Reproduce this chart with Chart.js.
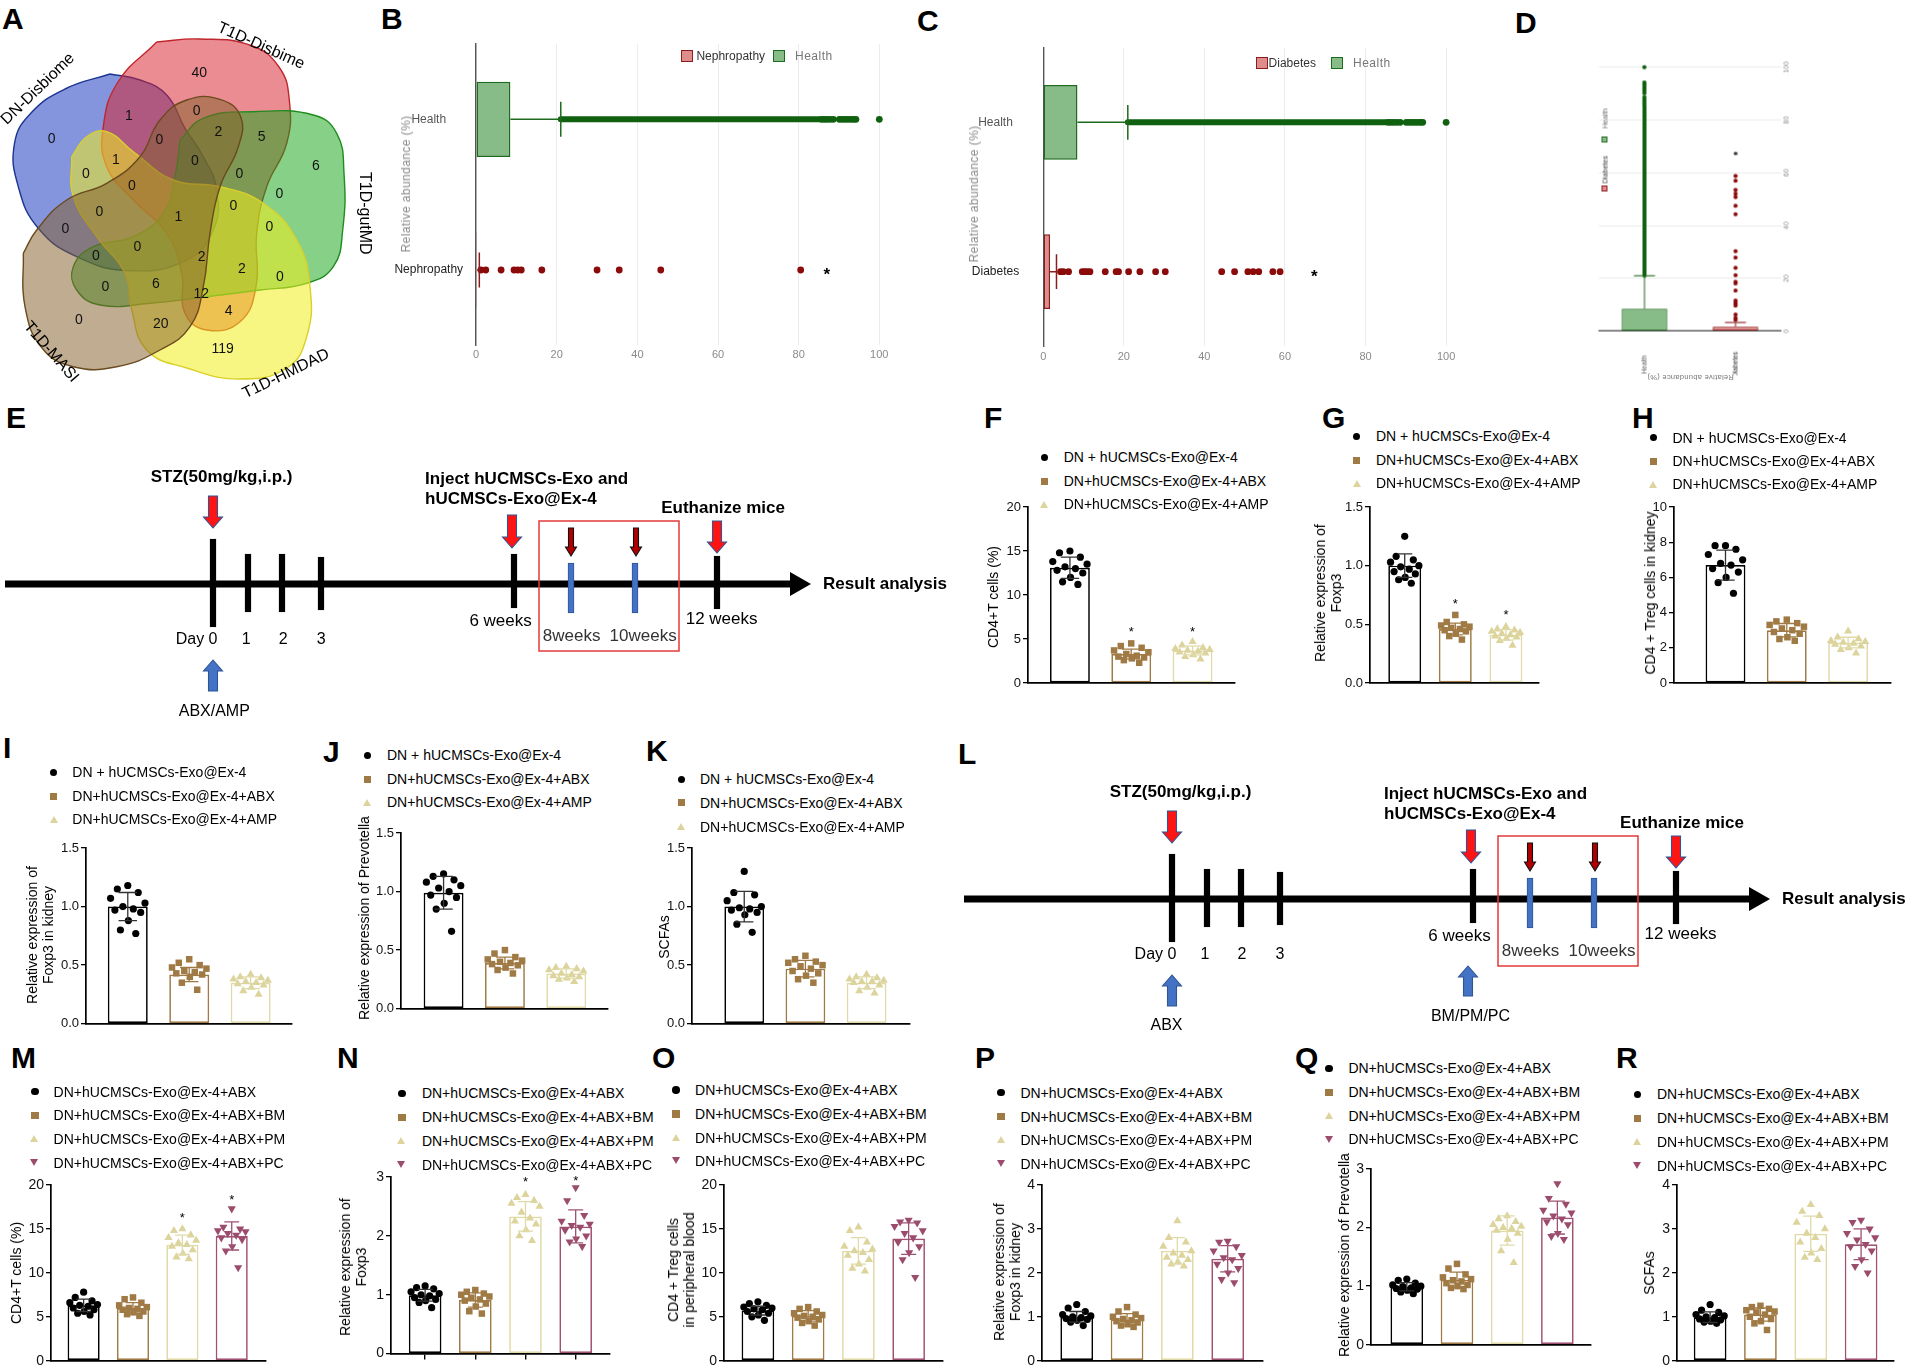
<!DOCTYPE html>
<html><head><meta charset="utf-8">
<script src="https://cdn.jsdelivr.net/npm/chart.js"></script>
<style>
html,body{margin:0;padding:0;background:#fff;}
#page{position:relative;width:1905px;height:1367px;overflow:hidden;background:#fff;font-family:"Liberation Sans",Arial,Helvetica,sans-serif;}
.t{position:absolute;white-space:nowrap;line-height:1;color:#000;}
canvas{position:absolute;}
</style></head><body><div id="page"></div>
<script>
// ================= DATA =================
// A: Venn diagram
const vennSets = ['DN-Disbiome','T1D-Disbime','T1D-gutMD','T1D-HMDAD','T1D-MASI'];
const vennCounts = [0,40,6,119,0, 1,0,2,5, 0,1,0,0,0,0, 0,0,0,1, 0,0,0,0, 2,2,0, 0,6,12,4,20];

// B / C / D: relative abundance box plots
const catsB = ['Health','Nephropathy'];
const catsC = ['Health','Diabetes'];
const healthBox = [0, 8.5];
const healthWhisker = 21;
const healthDenseRun = [21, 85];
const healthTail = [85.6,86.3,87.0,87.8,88.6,90.1,90.8,91.5,92.2,92.9,93.6,94.2,100];
const nephBox = [0, 0.25];
const nephWhisker = 0.8;
const nephOutliers = [1.2,2.4,6.2,9.4,10.3,11.2,16.3,30.0,35.5,45.8,80.5];
const nephStar = 87;
const diabBox = [0, 1.7];
const diabWhisker = 3.3;
const diabOutliers = [4.3,5.0,6.3,9.7,10.3,10.9,11.6,15.4,18.1,18.7,21.2,24.0,27.9,30.3,44.3,47.5,50.8,52.1,53.5,57.0,58.8];
const diabStar = 67.3;
const abundTicks = [0,20,40,60,80,100];

// E / L timelines
const tlLabels = ['Day 0','1','2','3','6 weeks','8weeks','10weeks','12 weeks'];
const tlPos = [0, 35, 69, 108, 301, 358, 422, 504];

// Prism groups
const groupsFK = ['DN + hUCMSCs-Exo@Ex-4','DN+hUCMSCs-Exo@Ex-4+ABX','DN+hUCMSCs-Exo@Ex-4+AMP'];
const groupsMR = ['DN+hUCMSCs-Exo@Ex-4+ABX','DN+hUCMSCs-Exo@Ex-4+ABX+BM','DN+hUCMSCs-Exo@Ex-4+ABX+PM','DN+hUCMSCs-Exo@Ex-4+ABX+PC'];

// F CD4+T cells (%)
const F1 = [15.0,14.8,14.3,13.8,13.5,13.2,13.0,12.8,12.5,12.0,11.5,11.2];
const F2 = [4.5,4.2,4.0,3.7,3.5,3.3,3.1,3.0,2.9,2.8,2.6,2.3];
const F3 = [4.7,4.3,4.0,3.9,3.8,3.7,3.6,3.5,3.4,3.2,3.0,2.7];
const F_mean = [13.1,3.3,3.7], F_sd = [1.2,0.55,0.5], F_star = [null,6.25,6.25];
// G Foxp3
const G1 = [1.25,1.08,1.05,1.03,1.0,0.99,0.97,0.95,0.93,0.9,0.88,0.85];
const G2 = [0.58,0.52,0.5,0.49,0.48,0.47,0.46,0.45,0.44,0.42,0.4,0.37];
const G3 = [0.48,0.46,0.45,0.44,0.43,0.42,0.41,0.40,0.39,0.38,0.36,0.32];
const G_mean = [1.0,0.46,0.41], G_sd = [0.1,0.05,0.045], G_star = [null,0.70,0.61];
// H CD4+Treg kidney
const H1 = [7.8,7.8,7.6,7.3,7.0,6.8,6.7,6.5,6.3,6.0,5.7,5.1];
const H2 = [3.6,3.5,3.4,3.3,3.2,3.1,3.0,2.9,2.8,2.6,2.5,2.4];
const H3 = [2.95,2.6,2.5,2.4,2.35,2.3,2.25,2.2,2.1,2.0,1.9,1.7];
const H_mean = [6.7,3.0,2.3], H_sd = [0.85,0.38,0.3];
// I Foxp3 kidney
const I1 = [1.18,1.15,1.12,1.07,1.03,1.0,0.98,0.97,0.95,0.88,0.8,0.77];
const I2 = [0.55,0.52,0.5,0.48,0.47,0.45,0.44,0.43,0.42,0.4,0.35,0.29];
const I3 = [0.42,0.4,0.39,0.38,0.37,0.36,0.35,0.34,0.33,0.31,0.28,0.25];
const I_mean = [1.0,0.42,0.35], I_sd = [0.12,0.06,0.05];
// J Prevotella
const J1 = [1.15,1.13,1.1,1.08,1.05,1.03,1.0,0.97,0.95,0.9,0.85,0.66];
const J2 = [0.5,0.47,0.44,0.42,0.41,0.4,0.39,0.38,0.37,0.35,0.33,0.3];
const J3 = [0.36,0.35,0.34,0.33,0.32,0.3,0.29,0.28,0.27,0.26,0.25,0.23];
const J_mean = [0.99,0.39,0.3], J_sd = [0.14,0.05,0.04];
// K SCFAs
const K1 = [1.3,1.12,1.1,1.05,1.0,0.99,0.98,0.97,0.95,0.93,0.85,0.78];
const K2 = [0.58,0.55,0.53,0.52,0.5,0.49,0.47,0.45,0.43,0.41,0.38,0.35];
const K3 = [0.42,0.4,0.39,0.38,0.37,0.36,0.36,0.35,0.33,0.31,0.28,0.26];
const K_mean = [1.0,0.47,0.35], K_sd = [0.13,0.07,0.05];
// M CD4+T cells
const M1 = [7.8,7.2,6.8,6.6,6.4,6.3,6.2,6.0,5.8,5.6,5.4,5.2];
const M2 = [7.2,7.0,6.6,6.3,6.1,6.0,5.9,5.8,5.6,5.5,5.3,5.1];
const M3 = [15.0,14.8,14.3,14.0,13.7,13.4,13.2,13.0,12.6,12.2,11.8,11.6];
const M4 = [17.3,15.2,15.0,14.8,14.7,14.5,14.3,14.0,13.8,13.0,12.5,10.6];
const M_mean = [6.3,6.0,13.2,14.2], M_sd = [0.7,0.6,1.1,1.6], M_star = [null,null,16.6,18.7];
// N Foxp3
const N1 = [1.15,1.12,1.1,1.05,1.02,1.0,0.98,0.95,0.92,0.9,0.87,0.78];
const N2 = [1.08,1.05,1.02,1.0,0.97,0.95,0.92,0.9,0.85,0.8,0.72,0.68];
const N3 = [2.7,2.65,2.6,2.55,2.5,2.4,2.3,2.25,2.2,2.1,2.0,1.92];
const N4 = [2.82,2.6,2.35,2.25,2.2,2.18,2.15,2.1,2.0,1.95,1.9,1.82];
const N_mean = [0.99,0.91,2.33,2.16], N_sd = [0.1,0.12,0.25,0.28], N_star = [null,null,2.97,3.0];
// O CD4+Treg blood
const O1 = [6.7,6.5,6.3,6.1,6.0,5.9,5.8,5.6,5.4,5.2,5.0,4.6];
const O2 = [6.1,5.9,5.6,5.4,5.2,5.1,5.0,4.9,4.7,4.5,4.3,4.0];
const O3 = [15.2,14.8,13.5,13.0,12.7,12.5,12.3,12.0,11.5,11.0,10.5,10.2];
const O4 = [16.0,15.8,15.7,15.3,14.8,14.5,14.0,13.5,13.0,12.3,11.5,9.5];
const O_mean = [5.7,5.1,12.5,13.9], O_sd = [0.5,0.6,1.5,1.8];
// P Foxp3 kidney
const P1 = [1.28,1.2,1.12,1.05,1.02,1.0,0.98,0.96,0.94,0.92,0.88,0.8];
const P2 = [1.22,1.12,1.05,1.0,0.97,0.95,0.92,0.9,0.87,0.83,0.8,0.77];
const P3 = [3.18,2.8,2.7,2.6,2.5,2.45,2.4,2.35,2.3,2.25,2.2,2.15];
const P4 = [2.72,2.7,2.6,2.5,2.4,2.35,2.3,2.2,2.1,2.0,1.85,1.78];
const P_mean = [1.0,0.94,2.5,2.32], P_sd = [0.12,0.13,0.3,0.3];
// Q Prevotella
const Q1 = [1.12,1.1,1.05,1.02,1.0,0.99,0.97,0.96,0.95,0.93,0.9,0.87];
const Q2 = [1.38,1.3,1.2,1.15,1.12,1.1,1.08,1.05,1.02,1.0,0.97,0.95];
const Q3 = [2.2,2.15,2.1,2.05,2.02,2.0,1.98,1.95,1.9,1.8,1.6,1.4];
const Q4 = [2.75,2.5,2.4,2.3,2.25,2.2,2.15,2.1,2.05,1.9,1.85,1.8];
const Q_mean = [0.99,1.11,1.95,2.17], Q_sd = [0.07,0.13,0.25,0.28];
// R SCFAs
const R1 = [1.28,1.15,1.1,1.05,1.02,1.0,0.98,0.95,0.93,0.9,0.88,0.85];
const R2 = [1.25,1.22,1.18,1.15,1.12,1.1,1.05,1.0,0.95,0.9,0.85,0.7];
const R3 = [3.55,3.4,3.3,3.15,3.0,2.9,2.8,2.7,2.55,2.45,2.35,2.3];
const R4 = [3.2,3.15,3.0,2.9,2.8,2.75,2.65,2.6,2.5,2.3,2.15,2.0];
const R_mean = [0.99,1.05,2.89,2.65], R_sd = [0.12,0.15,0.4,0.35];

// ================= LAYOUT / STYLE =================
const FONT = '"Liberation Sans", Arial, Helvetica, sans-serif';
Chart.defaults.font.family = FONT;
Chart.defaults.animation = false;
Chart.defaults.responsive = false;
Chart.defaults.plugins.legend.display = false;
Chart.defaults.plugins.tooltip.enabled = false;
Chart.defaults.events = [];
const page = document.getElementById('page');

function box(x,y,w,h,parent){const d=document.createElement('div');d.style.cssText=`position:absolute;left:${x}px;top:${y}px;width:${w}px;height:${h}px;`;(parent||page).appendChild(d);return d;}
function canvasIn(parent,w,h){const c=document.createElement('canvas');c.width=w;c.height=h;c.style.cssText=`left:0px;top:0px;width:${w}px;height:${h}px;`;parent.appendChild(c);return c;}
function T(str,x,y,o={}){
  const d=document.createElement('div');d.className='t';
  if(Array.isArray(str)){d.innerHTML=str.join('<br>');d.style.textAlign='center';d.style.lineHeight=(o.lh||16)+'px';}
  else d.textContent=str;
  d.style.left=x+'px';d.style.top=y+'px';d.style.fontSize=(o.size||14)+'px';
  if(o.bold)d.style.fontWeight='bold';
  d.style.color=o.color||'#000';
  if(o.ls)d.style.letterSpacing=o.ls+'px';
  const ax=o.ax??0, ay=o.ay??0.5;
  d.style.transform=`translate(${-ax*100}%,${-ay*100}%)`+(o.rot?` rotate(${o.rot}deg)`:'');
  (o.parent||page).appendChild(d);return d;
}
function letter(ch,x,capTop){T(ch,x,capTop-4,{size:30,bold:true,ax:0,ay:0});}
function marker(shape,color,cx,cy,s){
  const d=document.createElement('div');d.style.position='absolute';
  if(shape==='circle'||shape==='rect'){d.style.width=s+'px';d.style.height=s+'px';d.style.left=(cx-s/2)+'px';d.style.top=(cy-s/2)+'px';d.style.background=color;if(shape==='circle')d.style.borderRadius='50%';}
  else{const h=s,w=s*1.15;d.style.width='0';d.style.height='0';d.style.left=(cx-w/2)+'px';d.style.top=(cy-h/2)+'px';d.style.borderLeft=`${w/2}px solid transparent`;d.style.borderRight=`${w/2}px solid transparent`;if(shape==='tri')d.style.borderBottom=`${h}px solid ${color}`;else d.style.borderTop=`${h}px solid ${color}`;}
  page.appendChild(d);
}
function sq(parent,x,y,s,fill,stroke,bw){const d=document.createElement('div');d.style.cssText=`position:absolute;left:${x}px;top:${y}px;width:${s}px;height:${s}px;background:${fill};border:${bw}px solid ${stroke};box-sizing:border-box;`;parent.appendChild(d);}

// ---------- Panel letters ----------
[['A',2,8],['B',381,8],['C',917,10],['D',1515,12],['E',6,407],['F',984,407],['G',1322,407],['H',1632,407],
 ['I',3,737],['J',323,741],['K',646,740],['L',958,743],['M',11,1047],['N',337,1047],['O',652,1047],['P',975,1047],['Q',1295,1047],['R',1616,1047]]
 .forEach(a=>letter(a[0],a[1],a[2]));

// ---------- A: Venn ----------
const vennOutlines = [
 [[110,74],[140,80],[166.7,95],[185,128.3],[203.3,156.7],[216.7,190],[213.3,230],[186.7,260],[130,270.7],[76.7,256.7],[38.3,228.3],[18.3,186.7],[14.5,143.3],[31,113],[65,89]],
 [[156.7,42],[200,39],[251,45.5],[279,67],[289.3,100],[286.7,143.3],[266.7,186.7],[256.7,233.3],[256,286.7],[240,321.7],[206.7,330],[185,313.3],[181.7,273.3],[166.7,233.3],[133.3,200],[106.7,166.7],[103.3,126.7],[118,82]],
 [[180,140],[203.3,118.3],[253.3,111.7],[313.3,115],[336.7,133.3],[344,173.3],[342.7,230],[333.3,266.7],[306.7,283.3],[260,290],[206.7,296.7],[150,303.3],[100,305],[76.7,290],[73.3,266.7],[93.3,246.7],[133.3,236.7],[163.3,213.3],[175,176.7]],
 [[71.7,156.7],[86.7,136.7],[106.7,131.7],[133.3,151.7],[173.3,180],[220,186.7],[263.3,203.3],[296.7,240],[310,286.7],[306.7,336.7],[286.7,368],[240,379],[186.7,368],[146.7,350],[131.7,310],[125,273.3],[96.7,236.7],[73.3,196.7]],
 [[23.3,253.3],[36.7,230],[66.7,200],[106.7,183.3],[140,156.7],[160,120],[186.7,100],[220,99.3],[240.7,116.7],[238.3,146.7],[220,186.7],[210,233.3],[203.3,286.7],[190,326.7],[160,350],[116.7,366.7],[73.3,366.7],[42,348],[25,306.7]]
];
const vennFill = ['rgba(20,50,190,0.52)','rgba(215,35,45,0.52)','rgba(25,165,25,0.52)','rgba(240,238,30,0.55)','rgba(135,95,45,0.52)'];
const vennStroke = ['#1c3590','#c0272d','#1f8c1f','#d9d02a','#6b4a1e'];
const vennCountPos = [[51.7,138.3],[199.3,71.7],[316,165],[222.7,347.7],[79,319],
 [129,115],[196.7,110],[218.3,131],[261.7,136],
 [86,172.7],[116,159.3],[159.3,139.3],[195,160],[239.3,172.7],[279.3,193.3],
 [132,185.3],[233.3,205],[99.3,210.7],[178.3,216],
 [65.3,228.3],[269.3,226],[137.3,245.7],[96,255],
 [201.7,256],[242,267.7],[280,275.7],
 [105.3,286],[156,283.3],[201.3,293.3],[228.7,310],[160.7,322.7]];
const vennNamePos = [[38,89,-44],[261,46,24],[364,213.3,90],[286,374,-26],[51,352,49]];
(function(){
  const cont=box(0,0,470,400);const cv=canvasIn(cont,470,400);
  const ds=vennOutlines.map((pts,i)=>({type:'line',data:pts.concat([pts[0]]).map(p=>({x:p[0],y:p[1]})),borderColor:vennStroke[i],backgroundColor:vennFill[i],borderWidth:1.4,fill:'shape',tension:0.45,pointRadius:0,order:10-i}));
  ds.push({type:'scatter',data:vennCountPos.map(p=>({x:p[0],y:p[1]})),pointRadius:0,order:0});
  new Chart(cv,{data:{datasets:ds},options:{layout:{padding:0},scales:{x:{type:'linear',min:0,max:470,display:false},y:{type:'linear',min:0,max:400,reverse:true,display:false}}},
   plugins:[{id:'vennText',afterDatasetsDraw(chart){
     const {ctx,scales:{x,y}}=chart;const pts=chart.getDatasetMeta(ds.length-1).data;
     ctx.save();ctx.fillStyle='#111';ctx.font=`14px ${FONT}`;ctx.textAlign='center';ctx.textBaseline='middle';
     vennCounts.forEach((c,i)=>ctx.fillText(String(c),pts[i].x,pts[i].y+1));
     ctx.font=`16px ${FONT}`;ctx.fillStyle='#000';
     vennSets.forEach((s,i)=>{const p=vennNamePos[i];ctx.save();ctx.translate(x.getPixelForValue(p[0]),y.getPixelForValue(p[1]));ctx.rotate(p[2]*Math.PI/180);ctx.fillText(s,0,0);ctx.restore();});
     ctx.restore();}}]});
})();

// ---------- B, C, D: abundance box plots ----------
const GR='#1d6b1d', GRF='rgba(70,150,70,0.65)', RD='#8c1d1d', RDF='rgba(210,95,95,0.72)';
function abund(o){
  const cv=canvasIn(o.parent,o.W,o.H);const cats=o.cats;const P=o.plot;
  const ds=[
    {type:'bar',data:[o.box0,o.box1],backgroundColor:[GRF,RDF],borderColor:[GR,RD],borderWidth:o.bw,borderSkipped:false,barPercentage:0.5,categoryPercentage:1,order:4},
    {type:'line',data:[{x:healthDenseRun[0],y:cats[0]},{x:healthDenseRun[1],y:cats[0]}],borderColor:'#0f600f',borderWidth:o.band,borderCapStyle:'round',pointRadius:0,fill:false,order:3,clip:false},
    {type:'scatter',data:healthTail.map(v=>({x:v,y:cats[0]})),pointRadius:o.pr,backgroundColor:'#0f600f',borderWidth:0,order:2,clip:false},
    {type:'scatter',data:o.out.map(v=>({x:v,y:cats[1]})),pointRadius:o.pr,backgroundColor:'#8b0a0a',borderWidth:0,order:1,clip:false}
  ];
  new Chart(cv,{data:{labels:cats,datasets:ds},options:{indexAxis:'y',
    layout:{padding:{left:P.l-o.yW,top:P.t,right:o.W-P.r,bottom:o.H-P.b-o.xH}},
    scales:{
      x:{type:'linear',min:0,max:100,offset:false,afterFit(s){s.height=o.xH;},afterBuildTicks(s){s.ticks=abundTicks.map(v=>({value:v}));},
         ticks:{color:'#8a8a8a',font:{size:o.tickFs},padding:o.xPad,maxRotation:0,autoSkip:false},grid:{color:'#ececec',drawTicks:false,lineWidth:1},border:{display:false}},
      y:{type:'category',offset:true,afterFit(s){s.width=o.yW;},ticks:{color:(c)=>c.index===0?'#555':'#222',font:{size:o.catFs},padding:o.catPad,crossAlign:'center'},grid:{display:false},border:{display:true,color:'#555',width:1.4}}
    }},
    plugins:[{id:'whisk',afterDatasetsDraw(chart){
      const {ctx,scales:{x,y}}=chart;const slot=Math.abs(y.getPixelForValue(1)-y.getPixelForValue(0));
      ctx.save();ctx.lineWidth=o.bw;
      [[o.box0[1],o.wh0,GR],[o.box1[1],o.wh1,RD]].forEach((w,i)=>{const yp=y.getPixelForValue(i),x1=x.getPixelForValue(w[0]),x2=x.getPixelForValue(w[1]),ch=slot*0.116;
        ctx.strokeStyle=w[2];ctx.beginPath();ctx.moveTo(x1,yp);ctx.lineTo(x2,yp);ctx.moveTo(x2,yp-ch);ctx.lineTo(x2,yp+ch);ctx.stroke();});
      ctx.fillStyle='#000';ctx.font=`bold ${o.starFs}px ${FONT}`;ctx.textAlign='center';ctx.textBaseline='alphabetic';
      ctx.fillText('*',x.getPixelForValue(o.star),y.getPixelForValue(1)+o.starFs*0.6);ctx.restore();}}]});
}
// B
(function(){
  const c=box(380,0,530,390);
  abund({parent:c,W:530,H:390,plot:{l:96.1,t:44,r:499.3,b:345.3},yW:86,xH:20,cats:catsB,box0:healthBox,box1:nephBox,wh0:healthWhisker,wh1:nephWhisker,out:nephOutliers,star:nephStar,
    tickFs:11,catFs:12,catPad:5,xPad:3,pr:3.4,band:6,bw:1.5,starFs:17});
  T('Relative abundance (%)',406,184,{size:12,color:'#8a8a8a',ax:0.5,ay:0.5,rot:-90,ls:0.4});
  sq(page,681,50,11.5,RDF,RD,1.5);T('Nephropathy',696.4,55.7,{size:12,color:'#333'});
  sq(page,773,50,11.5,GRF,GR,1.5);T('Health',795,55.7,{size:12,color:'#777',ls:0.5});
})();
// C
(function(){
  const c=box(940,0,530,390);
  abund({parent:c,W:530,H:390,plot:{l:103.2,t:47.6,r:506.1,b:346.4},yW:90,xH:20,cats:catsC,box0:healthBox,box1:diabBox,wh0:healthWhisker,wh1:diabWhisker,out:diabOutliers,star:diabStar,
    tickFs:11,catFs:12,catPad:16,xPad:4,pr:3.4,band:6,bw:1.5,starFs:17});
  T('Relative abundance (%)',974,194,{size:12,color:'#8a8a8a',ax:0.5,ay:0.5,rot:-90,ls:0.4});
  sq(page,1256,57,11.5,RDF,RD,1.5);T('Diabetes',1268.6,63,{size:12,color:'#333'});
  sq(page,1331,57,11.5,GRF,GR,1.5);T('Health',1353,63,{size:12,color:'#777',ls:0.5});
})();
// D (same data as C, drawn rotated)
(function(){
  const c=box(1520,107.5,340,215);c.style.transform='rotate(-90deg)';c.style.transformOrigin='50% 50%';
  abund({parent:c,W:340,H:215,plot:{l:54.3,t:14.2,r:318.3,b:200.8},yW:44,xH:11,cats:catsC,box0:healthBox,box1:diabBox,wh0:healthWhisker,wh1:diabWhisker,out:diabOutliers,star:diabStar,
    tickFs:7,catFs:6.5,catPad:12.5,xPad:1,pr:2.1,band:4,bw:1.1,starFs:10});
  T('Relative abundance (%)',8.3,107.5,{size:7.5,color:'#777',ax:0.5,ay:0.5,rot:-90,ls:0.3,parent:c});
  sq(c,194,18.5,6,RDF,RD,1);T('Diabetes',202,21.5,{size:7,color:'#333',parent:c});
  sq(c,243,18.5,6,GRF,GR,1);T('Health',257,21.5,{size:7,color:'#666',parent:c});
})();

// ---------- E, L: timelines ----------
const tlLine = [-208, 577, 598];
const tlSpan = [[-43,45],[-28,30],[-28,30],[-26,27],[-24,30],[-29,21],[-29,21],[-25,28]];
const tlKind = ['k','k','k','k','k','b','b','k'];
const tlBox = [326,63,466,-67];
const tlArrows = [{x:0,from:88,to:56,k:'red'},{x:299,from:69,to:36,k:'red'},{x:358,from:56,to:28,k:'dark'},{x:423,from:56,to:28,k:'dark'},{x:504,from:63,to:31,k:'red'},{x:0,from:-107,to:-76,k:'blue'}];
function drawArrow(ctx,px,p0,p1,k){
  const dir=Math.sign(p1-p0);const big=k!=='dark';
  const sw=big?4.5:2.5,hw=big?9.5:5.5,hl=big?11:9;const hb=p1-dir*hl;
  ctx.beginPath();ctx.moveTo(px-sw,p0);ctx.lineTo(px-sw,hb);ctx.lineTo(px-hw,hb);ctx.lineTo(px,p1);ctx.lineTo(px+hw,hb);ctx.lineTo(px+sw,hb);ctx.lineTo(px+sw,p0);ctx.closePath();
  ctx.fillStyle=k==='red'?'#ff1414':(k==='blue'?'#4472c4':'#b00000');
  ctx.strokeStyle=k==='dark'?'#111':'#2f5597';ctx.lineWidth=1.1;ctx.fill();ctx.stroke();
}
function timeline(x0,y0,bottom,extraArrows){
  const W=835,H=270,XL=-215,YT=130;
  const cont=box(x0+XL,y0-YT,W,H);const cv=canvasIn(cont,W,H);
  const arrows=tlArrows.concat(extraArrows);
  new Chart(cv,{data:{datasets:[
    {type:'line',data:[{x:tlLine[0],y:0},{x:tlLine[1],y:0}],borderColor:'#000',borderWidth:7,pointRadius:0,fill:false,order:2},
    {type:'bar',data:tlPos.map((p,i)=>({x:p,y:tlSpan[i]})),backgroundColor:tlKind.map(k=>k==='b'?'#4472c4':'#000'),borderColor:tlKind.map(k=>k==='b'?'#2f5597':'#000'),borderWidth:1,borderSkipped:false,barThickness:6,grouped:false,order:1}
  ]},options:{layout:{padding:0},scales:{x:{type:'linear',min:XL,max:XL+W,offset:false,display:false},y:{type:'linear',min:YT-H,max:YT,display:false}}},
  plugins:[{id:'tl',afterDatasetsDraw(chart){
    const {ctx,scales:{x,y}}=chart;ctx.save();
    const bx=x.getPixelForValue(tlLine[1]),tx=x.getPixelForValue(tlLine[2]),cy=y.getPixelForValue(0);
    ctx.fillStyle='#000';ctx.beginPath();ctx.moveTo(bx,cy-12);ctx.lineTo(tx,cy);ctx.lineTo(bx,cy+12);ctx.closePath();ctx.fill();
    const x1=x.getPixelForValue(tlBox[0]),y1=y.getPixelForValue(tlBox[1]),x2=x.getPixelForValue(tlBox[2]),y2=y.getPixelForValue(tlBox[3]);
    ctx.strokeStyle='#e23a3a';ctx.lineWidth=1.5;ctx.strokeRect(x1,y1,x2-x1,y2-y1);
    arrows.forEach(a=>drawArrow(ctx,x.getPixelForValue(a.x),y.getPixelForValue(a.from),y.getPixelForValue(a.to),a.k));
    ctx.restore();}}]});
  // texts
  T('STZ(50mg/kg,i.p.)',x0+8.5,y0-108.5,{size:17,bold:true,ax:0.5});
  T('Inject hUCMSCs-Exo and',x0+212,y0-106.5,{size:17,bold:true});
  T('hUCMSCs-Exo@Ex-4',x0+212,y0-86,{size:17,bold:true});
  T('Euthanize mice',x0+510,y0-77.5,{size:17,bold:true,ax:0.5});
  T('Result analysis',x0+610,y0-1.5,{size:17,bold:true});
  T(tlLabels[0],x0+4.4,y0+54.5,{size:16,ax:1});
  T(tlLabels[1],x0+33,y0+54.5,{size:16,ax:0.5});
  T(tlLabels[2],x0+70,y0+54.5,{size:16,ax:0.5});
  T(tlLabels[3],x0+108,y0+54.5,{size:16,ax:0.5});
  T(tlLabels[4],x0+287.5,y0+36,{size:17,ax:0.5});
  T(tlLabels[5],x0+358.5,y0+51,{size:17,ax:0.5,color:'#333'});
  T(tlLabels[6],x0+430,y0+51,{size:17,ax:0.5,color:'#333'});
  T(tlLabels[7],x0+508.5,y0+34,{size:17,ax:0.5});
  bottom.forEach(b=>T(b[0],x0+b[1],y0+b[2],{size:16,ax:0.5}));
}
timeline(213.1,584.3,[['ABX/AMP',1.2,126.7]],[]);
timeline(1172,899.3,[['ABX',-5.5,125.7],['BM/PM/PC',298.5,116.7]],[{x:296,from:-97,to:-67,k:'blue'}]);

// ---------- F-K, M-R: bar + scatter panels ----------
const COLS = ['#000000','#a07a45','#dcd49c','#9b4b6b'];
const BARCOLS = ['#000000','#a07a45','#e0daa8','#a05273'];
const SHAPES = ['circle','rect','triangle','triangle'];
const ROTS = [0,0,0,180];
const RADS = [3.6,4.6,4.7,4.7];
const LEGSHAPES = ['circle','rect','tri','tridown'];
const JIT = [0,-0.17,0.17,-0.28,0.28,-0.08,0.09,-0.21,0.21,0.01,-0.12,0.13];
function prism(c){
  const padL=46,padT=14,padR=10,padB=14;
  const W=Math.round(c.xe-c.ax+padL+padR),H=Math.round(c.y0-c.yt+padT+padB);
  const cont=box(c.ax-padL,c.yt-padT,W,H);const cv=canvasIn(cont,W,H);
  const xH=c.xTicks?7:0;const n=c.mean.length;
  const ds=[{type:'bar',data:c.mean.map((m,i)=>({x:i+1,y:m})),backgroundColor:'#ffffff',borderColor:BARCOLS.slice(0,n),borderWidth:1.7,borderSkipped:false,barPercentage:0.65,categoryPercentage:1,grouped:false,order:3}];
  c.groups.forEach((vals,gi)=>ds.push({type:'scatter',data:vals.map((v,k)=>({x:gi+1+JIT[k%JIT.length],y:v})),pointStyle:SHAPES[gi],rotation:ROTS[gi],pointRadius:RADS[gi],backgroundColor:COLS[gi],borderColor:COLS[gi],borderWidth:0,order:2,clip:false}));
  new Chart(cv,{data:{datasets:ds},options:{
    layout:{padding:{left:0,top:padT,right:W-(c.xe-c.ax+padL),bottom:H-(c.y0-c.yt+padT)-xH}},
    scales:{
      x:{type:'linear',min:c.xmin,max:c.xmax,offset:false,afterFit(s){s.height=xH;},
         afterBuildTicks(s){s.ticks=c.mean.map((_,i)=>({value:i+1}));},
         ticks:{display:false},grid:{display:!!c.xTicks,drawOnChartArea:false,drawTicks:true,tickLength:6,color:'#000',lineWidth:1.4,offset:false},border:{display:true,color:'#000',width:1.7}},
      y:{type:'linear',min:0,max:c.ymax,afterFit(s){s.width=padL;},
         ticks:{stepSize:c.step,color:'#111',font:{size:c.tf},padding:2,callback:(v)=>c.dec?Number(v).toFixed(c.dec):String(v)},
         grid:{drawOnChartArea:false,drawTicks:true,tickLength:5,color:'#000',lineWidth:1.3},border:{color:'#000',width:1.7}}
    }},
    plugins:[{id:'err',afterDatasetsDraw(chart){
      const {ctx,scales:{x,y}}=chart;const pitch=x.getPixelForValue(2)-x.getPixelForValue(1);
      ctx.save();ctx.lineWidth=1.3;
      c.mean.forEach((m,i)=>{const px=x.getPixelForValue(i+1),yt=y.getPixelForValue(m+c.sd[i]),yb=y.getPixelForValue(Math.max(0,m-c.sd[i])),cw=pitch*0.15;
        ctx.strokeStyle=i===0?'#333':BARCOLS[i];ctx.beginPath();ctx.moveTo(px,yt);ctx.lineTo(px,yb);ctx.moveTo(px-cw,yt);ctx.lineTo(px+cw,yt);ctx.moveTo(px-cw,yb);ctx.lineTo(px+cw,yb);ctx.stroke();});
      if(c.stars){ctx.fillStyle='#000';ctx.font=`13px ${FONT}`;ctx.textAlign='center';ctx.textBaseline='alphabetic';
        c.stars.forEach((s,i)=>{if(s!=null)ctx.fillText('*',x.getPixelForValue(i+1),y.getPixelForValue(s)+7.5);});}
      ctx.restore();}}]});
  // legend & title (HTML text)
  c.names.forEach((nm,i)=>{marker(LEGSHAPES[i],COLS[i],c.mx,c.rows[i],c.ms);T(nm,c.tx,c.rows[i],{size:14});});
  T(c.title,c.ttx,c.tty,{size:14,ax:0.5,ay:0.5,rot:-90,lh:16});
}
const PANELS=[
 {ax:1028.1,y0:682.7,yt:506.7,xe:1234.3,xmin:0.316,xmax:3.68,ymax:20,step:5,dec:0,groups:[F1,F2,F3],mean:F_mean,sd:F_sd,stars:F_star,title:'CD4+T cells (%)',ttx:993.2,tty:596.7,mx:1044.4,tx:1063.7,rows:[457.3,481,504.3],names:groupsFK},
 {ax:1369.9,y0:682.7,yt:506.7,xe:1538.7,xmin:0.314,xmax:3.65,ymax:1.5,step:0.5,dec:1,groups:[G1,G2,G3],mean:G_mean,sd:G_sd,stars:G_star,title:['Relative expression of','Foxp3'],ttx:1327.7,tty:593,mx:1356.6,tx:1375.9,rows:[436,460,483.3],names:groupsFK},
 {ax:1674.3,y0:682.7,yt:506.7,xe:1891.3,xmin:0.16,xmax:3.70,ymax:10,step:2,dec:0,groups:[H1,H2,H3],mean:H_mean,sd:H_sd,title:'CD4 + Treg cells in kidney',ttx:1650.2,tty:593,mx:1653.2,tx:1672.5,rows:[437.7,461,484.3],names:groupsFK},
 {ax:85.7,y0:1024,yt:848.3,xe:290.9,xmin:0.32,xmax:3.66,ymax:1.5,step:0.5,dec:1,groups:[I1,I2,I3],mean:I_mean,sd:I_sd,title:['Relative expression of','Foxp3 in kidney'],ttx:39.8,tty:935,mx:53.9,tx:72.3,rows:[772.3,796,819.3],names:groupsFK},
 {ax:401.1,y0:1008.3,yt:832.7,xe:608.1,xmin:0.306,xmax:3.68,ymax:1.5,step:0.5,dec:1,groups:[J1,J2,J3],mean:J_mean,sd:J_sd,title:'Relative expression of Prevotella',ttx:364.4,tty:918,mx:367.4,tx:387,rows:[755,779,802.3],names:groupsFK},
 {ax:692,y0:1024,yt:848.3,xe:909.4,xmin:0.146,xmax:3.70,ymax:1.5,step:0.5,dec:1,groups:[K1,K2,K3],mean:K_mean,sd:K_sd,title:'SCFAs',ttx:664.4,tty:936.7,mx:681,tx:700,rows:[779.3,802.7,826.7],names:groupsFK},
 {ax:51.3,y0:1360.7,yt:1185,xe:265.6,xmin:0.339,xmax:4.68,ymax:20,step:5,dec:0,groups:[M1,M2,M3,M4],mean:M_mean,sd:M_sd,stars:M_star,title:'CD4+T cells (%)',ttx:15.6,tty:1273.3,mx:34.8,tx:53.6,rows:[1091.7,1115.3,1139,1162.7],names:groupsMR},
 {ax:390.6,y0:1353.3,yt:1176.7,xe:609.4,xmin:0.32,xmax:4.68,ymax:3,step:1,dec:0,groups:[N1,N2,N3,N4],mean:N_mean,sd:N_sd,stars:N_star,xTicks:true,title:['Relative expression of','Foxp3'],ttx:352.7,tty:1266.7,mx:401.8,tx:421.9,rows:[1093.3,1117.3,1141,1165],names:groupsMR},
 {ax:723.7,y0:1360.7,yt:1185,xe:942,xmin:0.325,xmax:4.67,ymax:20,step:5,dec:0,groups:[O1,O2,O3,O4],mean:O_mean,sd:O_sd,title:['CD4 + Treg cells','in peripheral blood'],ttx:680.9,tty:1270,mx:675.9,tx:695.1,rows:[1090,1114,1137.7,1161],names:groupsMR},
 {ax:1042,y0:1360.7,yt:1185,xe:1262.4,xmin:0.31,xmax:4.69,ymax:4,step:1,dec:0,groups:[P1,P2,P3,P4],mean:P_mean,sd:P_sd,title:['Relative expression of','Foxp3 in kidney'],ttx:1007.4,tty:1271.7,mx:1001.2,tx:1020.4,rows:[1092.7,1116.7,1140,1164],names:groupsMR},
 {ax:1371.1,y0:1345,yt:1169.3,xe:1591.1,xmin:0.287,xmax:4.67,ymax:3,step:1,dec:0,groups:[Q1,Q2,Q3,Q4],mean:Q_mean,sd:Q_sd,title:'Relative expression of Prevotella',ttx:1344.3,tty:1255,mx:1329.1,tx:1348.4,rows:[1068.3,1092.3,1116,1139.3],names:groupsMR},
 {ax:1676.7,y0:1360.7,yt:1185,xe:1893.5,xmin:0.342,xmax:4.65,ymax:4,step:1,dec:0,groups:[R1,R2,R3,R4],mean:R_mean,sd:R_sd,title:'SCFAs',ttx:1648.7,tty:1273.3,mx:1637.6,tx:1657,rows:[1094.3,1118.3,1141.7,1166],names:groupsMR}
];
PANELS.forEach((p,i)=>{p.tf=i<6?13:14;p.ms=i<6?7:7.5;prism(p);});
</script></body></html>
